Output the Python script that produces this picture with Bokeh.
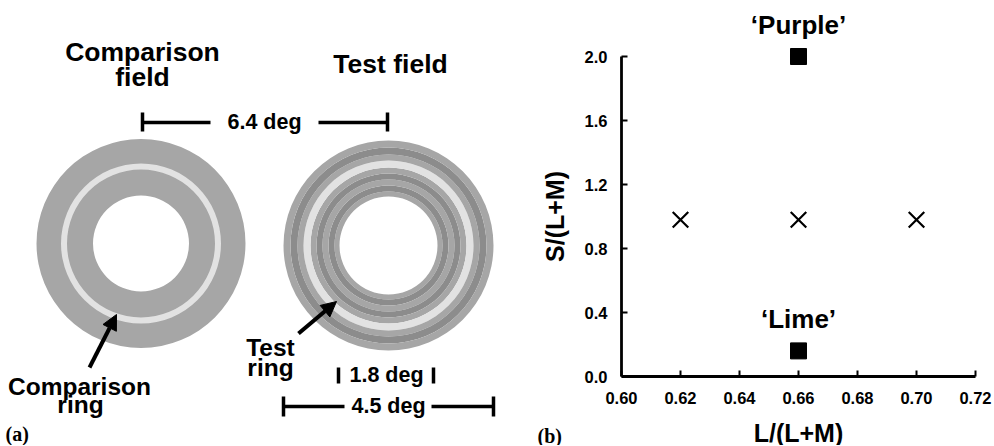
from bokeh.plotting import figure
from bokeh.layouts import row
from bokeh.models import Range1d, FixedTicker, PrintfTickFormatter, Arrow, NormalHead
from bokeh.core.properties import value
from bokeh.embed import file_html
from bokeh.resources import INLINE

# ---------------- panel (b) data ----------------
cross_x = [0.62, 0.66, 0.70]
cross_y = [0.98, 0.98, 0.98]
square_x = [0.66, 0.66]
square_y = [2.0, 0.16]
square_names = ["\u2018Purple\u2019", "\u2018Lime\u2019"]
x_ticks = [0.60, 0.62, 0.64, 0.66, 0.68, 0.70, 0.72]
y_ticks = [0.0, 0.4, 0.8, 1.2, 1.6, 2.0]
x_label = "L/(L+M)"
y_label = "S/(L+M)"

# ---------------- panel (a) labels ----------------
dim_labels = ["6.4 deg", "1.8 deg", "4.5 deg"]

SANS = "Liberation Sans"
SERIF = "Liberation Serif"
H = 445
WA = 500
WB = 493

# ================= panel (a): stimulus diagram (pixel coordinates) =================
pa = figure(width=WA, height=H, x_range=Range1d(0, WA), y_range=Range1d(H, 0),
            output_backend="svg", toolbar_location=None, min_border=0,
            x_axis_type=None, y_axis_type=None)
pa.outline_line_color = None
pa.background_fill_color = "white"

GRAY = "#a6a6a6"
DARK = "#8c8c8c"
LIGHT = "#e2e2e2"

# comparison field
cx, cy = 140.5, 243
pa.annulus(x=[cx], y=[cy], inner_radius=48, outer_radius=104.5, fill_color=GRAY, line_color=None)
pa.annulus(x=[cx], y=[cy], inner_radius=74, outer_radius=80, fill_color=LIGHT, line_color=None)

# test field: concentric bands
tx, ty = 388, 245
edges = [49, 54, 60, 66, 72, 78, 85, 91, 98, 105]
cols = [GRAY, DARK, GRAY, DARK, GRAY, LIGHT, GRAY, DARK, GRAY]
for i, c in enumerate(cols):
    pa.annulus(x=[tx], y=[ty], inner_radius=edges[i], outer_radius=edges[i + 1],
               fill_color=c, line_color=None)

def txt(p, x, y, s, size, align="center", font=SANS):
    p.text(x=[x], y=[y], text=[s], text_font=value(font), text_font_style="bold",
           text_font_size=size, text_align=align, text_baseline="middle", text_color="black")

txt(pa, 142, 51.5, "Comparison", "26.5px")
txt(pa, 142, 76, "field", "26.5px")
txt(pa, 390, 63.5, "Test field", "26.5px")
txt(pa, 79, 386, "Comparison", "24.5px")
txt(pa, 80, 404, "ring", "24.5px")
txt(pa, 270, 346.5, "Test", "24.5px")
txt(pa, 270, 367, "ring", "24.5px")

# dimension bars
LW = 3.5
txt(pa, 264, 121, dim_labels[0], "21.5px")
pa.segment(x0=[142, 318], y0=[122, 122], x1=[210, 387], y1=[122, 122], line_width=LW, line_color="black")
pa.segment(x0=[142, 387], y0=[112, 112], x1=[142, 387], y1=[131, 131], line_width=LW, line_color="black")

txt(pa, 386, 374.5, dim_labels[1], "21.5px")
pa.segment(x0=[338, 433], y0=[367, 367], x1=[338, 433], y1=[383, 383], line_width=LW, line_color="black")

txt(pa, 388, 405.5, dim_labels[2], "21.5px")
pa.segment(x0=[283, 431], y0=[406, 406], x1=[344, 493], y1=[406, 406], line_width=LW, line_color="black")
pa.segment(x0=[283, 493], y0=[396, 396], x1=[283, 493], y1=[416, 416], line_width=LW, line_color="black")

# arrows
for (xs, ys, xe, ye) in [(89, 367, 116, 314), (298, 333, 336, 301)]:
    pa.add_layout(Arrow(end=NormalHead(size=15, fill_color="black", line_color="black"),
                        x_start=xs, y_start=ys, x_end=xe, y_end=ye,
                        line_width=4, line_color="black"))

txt(pa, 5, 433, "(a)", "20px", align="left", font=SERIF)

# ================= panel (b): chromaticity plot =================
# screen placement: x=0.60 at page px 620, 0.02 per 59 px; y=0 at page px 376, 0.4 per 64 px
PXX = 59 / 0.02
PXY = 64 / 0.4
AX_X, AX_Y = 621, 376
xr = Range1d(x_ticks[0] - (AX_X - WA) / PXX, x_ticks[0] + (WA + WB - AX_X) / PXX)
yr = Range1d(y_ticks[0] - (H - AX_Y) / PXY, y_ticks[0] + AX_Y / PXY)

pb = figure(width=WB, height=H, x_range=xr, y_range=yr,
            output_backend="svg", toolbar_location=None, min_border=0)
pb.outline_line_color = None
pb.grid.visible = False

pb.scatter(cross_x, cross_y, marker="x", size=22, line_width=2.2, line_color="black")
pb.scatter(square_x, square_y, marker="square", size=16, fill_color="black", line_color="black")
pb.text(x=square_x, y=square_y, text=square_names, y_offset=-32,
        text_font=value(SANS), text_font_style="bold", text_font_size="26px",
        text_align="center", text_baseline="middle", text_color="black")

pb.xaxis.fixed_location = y_ticks[0]
pb.yaxis.fixed_location = x_ticks[0]
pb.xaxis.ticker = FixedTicker(ticks=x_ticks)
pb.yaxis.ticker = FixedTicker(ticks=y_ticks)
pb.xaxis.formatter = PrintfTickFormatter(format="%.2f")
pb.yaxis.formatter = PrintfTickFormatter(format="%.1f")
pb.xaxis.bounds = (x_ticks[0], x_ticks[-1])
pb.yaxis.bounds = (y_ticks[0], y_ticks[-1])
pb.xaxis.axis_label = x_label
pb.yaxis.axis_label = y_label
for ax in (pb.xaxis, pb.yaxis):
    ax.axis_line_width = 2.8
    ax.axis_line_color = "black"
    ax.major_tick_line_width = 2
    ax.major_tick_line_color = "black"
    ax.major_tick_in = 6
    ax.major_tick_out = 0
    ax.minor_tick_line_color = None
    ax.major_label_text_font = SANS
    ax.major_label_text_font_style = "bold"
    ax.major_label_text_font_size = "16.5px"
    ax.major_label_text_color = "black"
    ax.axis_label_text_font = SANS
    ax.axis_label_text_font_style = "bold"
    ax.axis_label_text_font_size = "25px"
    ax.axis_label_text_color = "black"
pb.xaxis.major_label_standoff = 15
pb.xaxis.axis_label_standoff = 12
pb.yaxis.major_label_standoff = 14
pb.yaxis.axis_label_standoff = 13

# panel letter (b), placed left of the y axis and below the x axis
txt(pb, x_ticks[0] - (AX_X - 537) / PXX, y_ticks[0] - (435 - AX_Y) / PXY, "(b)", "20px",
    align="left", font=SERIF)

layout = row(pa, pb)
open("out.html", "w").write(file_html(layout, INLINE))
